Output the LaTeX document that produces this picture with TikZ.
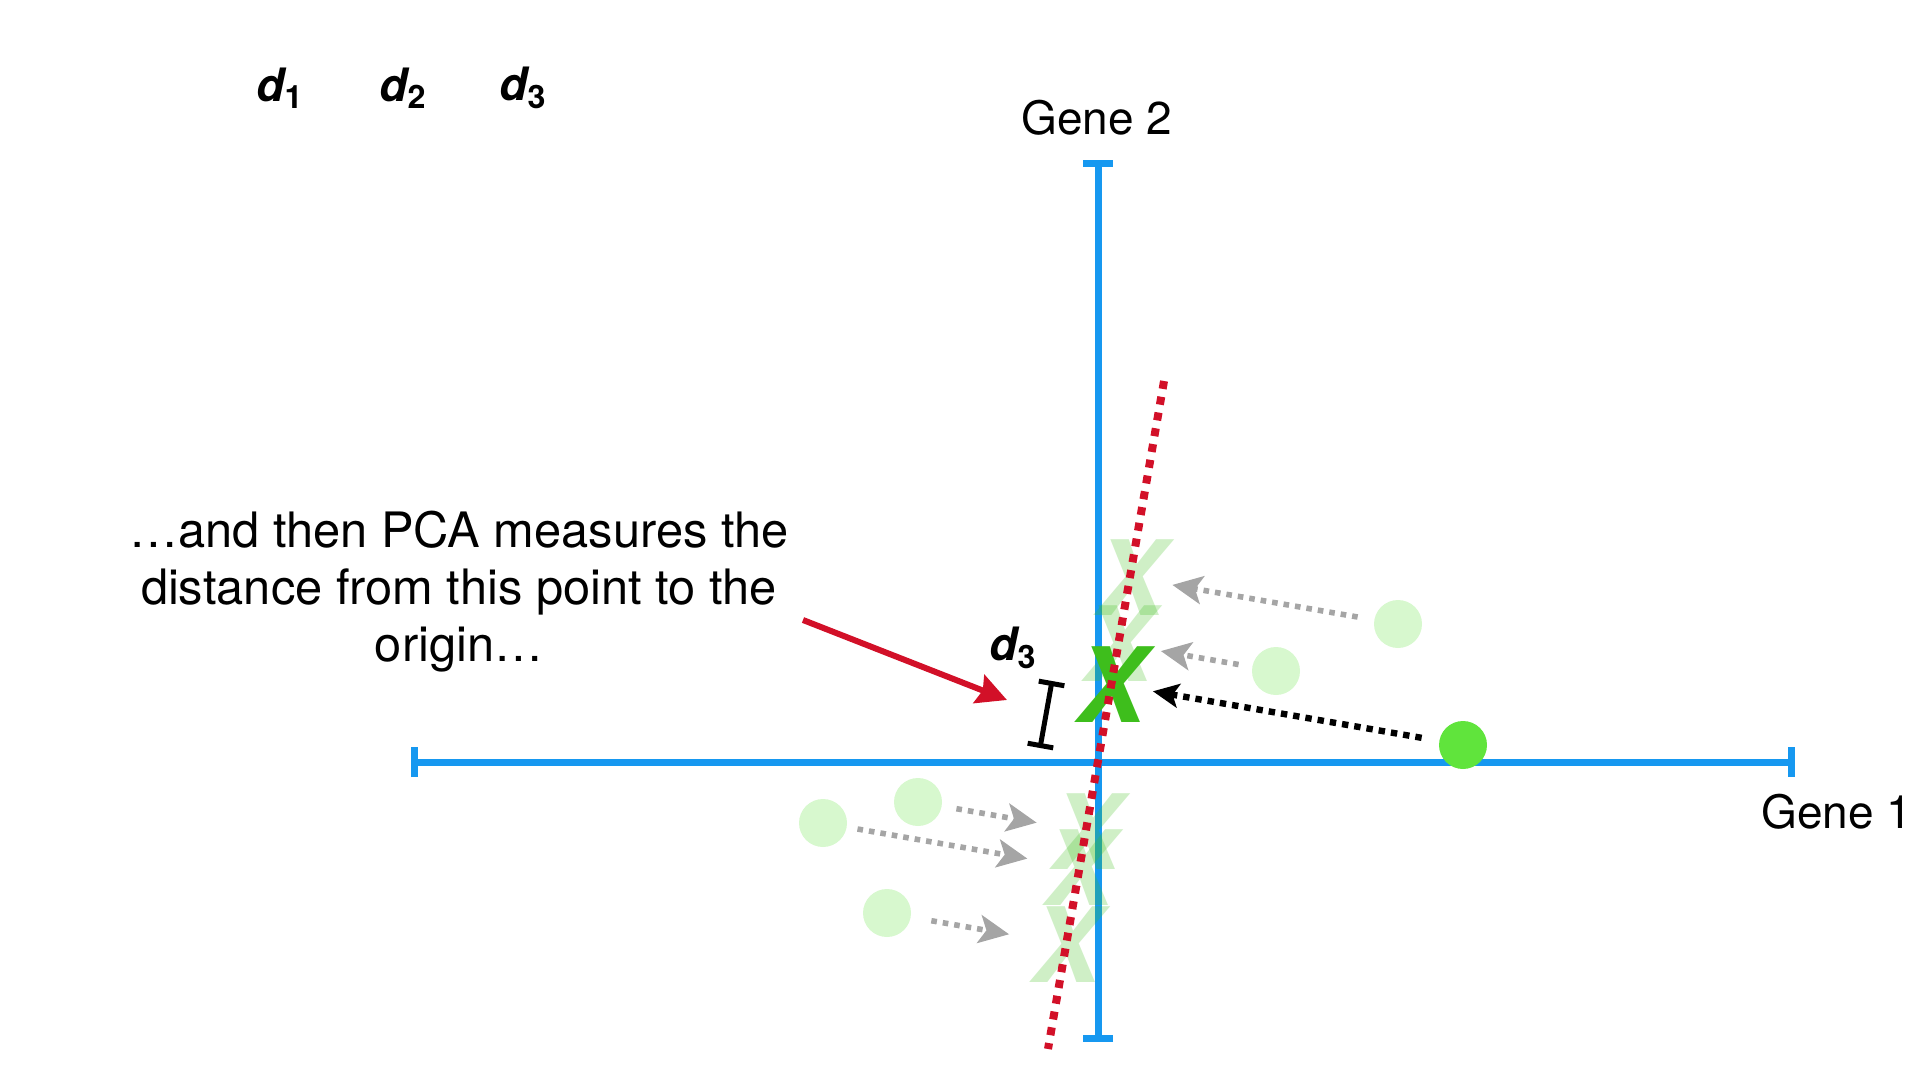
\documentclass[tikz,border=0pt]{standalone}
\usepackage{fontspec}
\setmainfont{TeX Gyre Heros}
\usetikzlibrary{arrows.meta,calc}
\definecolor{axisblue}{RGB}{22,152,240}
\definecolor{pcred}{RGB}{210,16,40}
\definecolor{ptgreen}{RGB}{96,228,60}
\definecolor{xgreen}{RGB}{62,190,28}
\definecolor{movegray}{RGB}{165,165,165}

\begin{document}
\begin{tikzpicture}[x=0.5pt,y=-0.5pt,
  axis/.style={draw=axisblue, line width=3.5pt, {Bar[width=15pt]}-{Bar[width=15pt]}},
  pt/.style={circle, fill=ptgreen, minimum size=24pt, inner sep=0pt},
  faded/.style={opacity=0.25},
  xmark/.style={inner sep=0pt, text=xgreen, font=\bfseries\itshape\fontsize{52pt}{52pt}\selectfont},
  move/.style={draw=movegray, line width=2.8pt, dash pattern=on 2.8pt off 3pt, -{Stealth[length=15pt, width=14pt, inset=3.5pt]}},
  lbl/.style={font=\fontsize{23pt}{27pt}\selectfont},
  dlbl/.style={font=\bfseries\itshape\fontsize{23pt}{27pt}\selectfont}]
\useasboundingbox (0,0) rectangle (1920,1080);

\coordinate (o) at (1098,762);
\coordinate (pcT) at (1164,381);
\coordinate (pcB) at (1048,1049);

\draw[axis] (411,762) -- (1795,762);
\draw[axis] (1098,160) -- (1098,1042);

\node[pt, faded] (pA) at (1398,624) {};
\node[pt, faded] (pB) at (1276,671) {};
\node[pt, faded] (pD) at (918,802) {};
\node[pt, faded] (pE) at (823,823) {};
\node[pt, faded] (pF) at (887,913) {};
\node[pt] (pC) at (1463,745) {};

\node[xmark, faded] (xA) at ($(o)!(pA)!(pcT)$) {X};
\node[xmark, faded] (xB) at ($(o)!(pB)!(pcT)$) {X};
\node[xmark, faded] (xD) at ($(o)!(pD)!(pcB)$) {X};
\node[xmark, faded] (xE) at ($(o)!(pE)!(pcB)$) {X};
\node[xmark, faded] (xF) at ($(o)!(pF)!(pcB)$) {X};
\node[xmark] (xC) at ($(o)!(pC)!(pcT)$) {X};

\draw[pcred, line width=4pt, dash pattern=on 4pt off 4pt] (pcT) -- (pcB);

\draw[move, shorten <=20.5pt, shorten >=21.5pt] (pA.center) -- (xA.center);
\draw[move, shorten <=19pt, shorten >=21.5pt] (pB.center) -- (xB.center);
\draw[move, shorten <=19.5pt, shorten >=25pt] (pD.center) -- (xD.center);
\draw[move, shorten <=17.5pt, shorten >=26.5pt] (pE.center) -- (xE.center);
\draw[move, shorten <=22.5pt, shorten >=29pt] (pF.center) -- (xF.center);
\draw[black, line width=3.2pt, dash pattern=on 3.2pt off 3pt, -{Stealth[length=13pt, width=12pt, inset=3pt]},
  shorten <=21pt, shorten >=21pt] (pC.center) -- (xC.center);

\node[lbl] (gene2) at (1097,118) {Gene 2};
\node[lbl] (gene1) at (1837,812) {Gene 1};

\node[dlbl] (d1) at (280,88) {d\textsubscript{\upshape 1}};
\node[dlbl] (d2) at (403,88) {d\textsubscript{\upshape 2}};
\node[dlbl] (d3) at (523,88) {d\textsubscript{\upshape 3}};

\node[align=center, font=\fontsize{24.4pt}{28.5pt}\selectfont] (note) at (459,592)
  {…and then PCA measures the\\distance from this point to the\\origin…};
\coordinate (noteS) at (803,620);
\coordinate (noteE) at (1007,700);
\draw[pcred, line width=3pt, -{Stealth[length=15pt, width=15pt, inset=2pt]}] (noteS) -- (noteE);

% distance marker along the PC line
\coordinate (dTop) at (1052,681);
\coordinate (dBot) at (1040,748);
\draw[black, line width=2.5pt, {Bar[width=13pt]}-{Bar[width=13pt]}] (dTop) -- (dBot);
\node[dlbl] (d3b) at (1013,648) {d\textsubscript{\upshape 3}};
\end{tikzpicture}
\end{document}
